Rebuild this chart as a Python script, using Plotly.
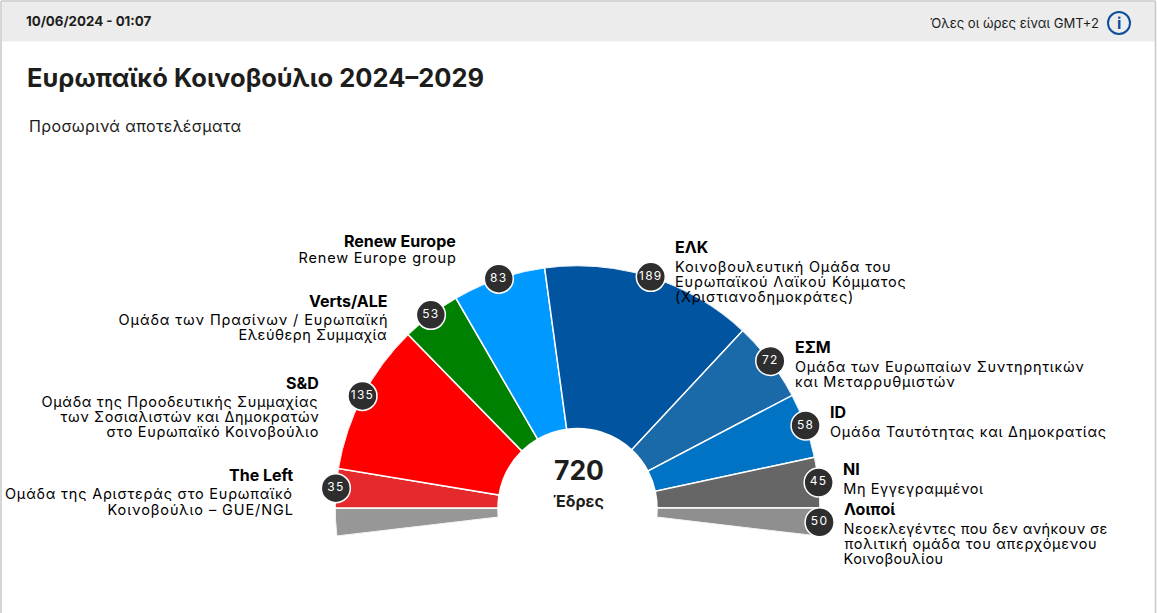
import plotly.graph_objects as go

W, H = 1157, 613
FONT = "Inter"

# ---- data ----
groups = ["Λοιποί (α)", "The Left", "S&D", "Verts/ALE", "Renew Europe", "ΕΛΚ", "ΕΣΜ", "ID", "NI", "Λοιποί (β)"]
seats = [25, 35, 135, 53, 83, 189, 72, 58, 45, 25]
badge_text = ["", "35", "135", "53", "83", "189", "72", "58", "45", "50"]
colors = ["#979797", "#e42a2c", "#ff0000", "#008000", "#0099ff", "#0054a0", "#1a69a8", "#0073c4", "#666666", "#8f8f8f"]
total_seats = "720"
seats_word = "Έδρες"
timestamp = "10/06/2024 - 01:07"
timezone = "Όλες οι ώρες είναι GMT+2"
title = "Ευρωπαϊκό Κοινοβούλιο 2024–2029"
subtitle = "Προσωρινά αποτελέσματα"

# text line, anchor, x px, y px, bold, letter spacing px
label_lines = [
    ("Renew Europe", "right", 456, 241, True, 0),
    ("Renew Europe group", "right", 456, 258, False, 0.83),
    ("Verts/ALE", "right", 388, 301, True, 0),
    ("Ομάδα των Πρασίνων / Ευρωπαϊκή", "right", 388, 319, False, 0.9),
    ("Ελεύθερη Συμμαχία", "right", 388, 334, False, 0.53),
    ("S&amp;D", "right", 319, 383, True, 0),
    ("Ομάδα της Προοδευτικής Συμμαχίας", "right", 319, 401, False, 0.66),
    ("των Σοσιαλιστών και Δημοκρατών", "right", 319, 416, False, 0.63),
    ("στο Ευρωπαϊκό Κοινοβούλιο", "right", 319, 431, False, 0.68),
    ("The Left", "right", 293, 475, True, 0),
    ("Ομάδα της Αριστεράς στο Ευρωπαϊκό", "right", 293, 494, False, 0.79),
    ("Κοινοβούλιο – GUE/NGL", "right", 293, 509, False, 0.9),
    ("ΕΛΚ", "left", 675, 247, True, 0),
    ("Κοινοβουλευτική Ομάδα του", "left", 675, 266, False, 0.8),
    ("Ευρωπαϊκού Λαϊκού Κόμματος", "left", 675, 281, False, 0.85),
    ("(Χριστιανοδημοκράτες)", "left", 675, 296, False, 0.76),
    ("ΕΣΜ", "left", 795, 347, True, 0),
    ("Ομάδα των Ευρωπαίων Συντηρητικών", "left", 795, 366, False, 0.75),
    ("και Μεταρρυθμιστών", "left", 795, 381, False, 0.79),
    ("ID", "left", 830, 412, True, 0),
    ("Ομάδα Ταυτότητας και Δημοκρατίας", "left", 830, 431, False, 0.75),
    ("NI", "left", 843, 469, True, 0),
    ("Μη Εγγεγραμμένοι", "left", 843, 488, False, 0.59),
    ("Λοιποί", "left", 844, 509, True, 0),
    ("Νεοεκλεγέντες που δεν ανήκουν σε", "left", 844, 528, False, 0.4),
    ("πολιτική ομάδα του απερχόμενου", "left", 844, 543, False, 0.7),
    ("Κοινοβουλίου", "left", 844, 558, False, 0.4),
]

# ---- geometry (seats -> degrees: the 670 seats above the baseline fill 180 degrees) ----
deg_per_seat = 180 / 670
overhang = seats[0] * deg_per_seat
cx, cy, R, hole = 577.5, 508, 242.5, 79.5

thetas, widths = [], []
cum = 0
for s in seats:
    widths.append(s * deg_per_seat)
    thetas.append((cum + s / 2) * deg_per_seat - overhang)
    cum += s

px = lambda x: x / W
py = lambda y: 1 - y / H

fig = go.Figure()
fig.add_trace(go.Barpolar(
    theta=thetas, width=widths, r=[R - hole] * len(seats), base=[hole] * len(seats),
    marker=dict(color=colors, line=dict(color="white", width=1.5)),
    text=groups, hoverinfo="text", showlegend=False,
))
fig.add_trace(go.Scatterpolar(
    theta=thetas[1:], r=[R] * (len(seats) - 1), mode="markers+text",
    text=badge_text[1:], textposition="middle center",
    textfont=dict(family=FONT, size=12, color="white"),
    marker=dict(size=29, color="#2e2e2e", line=dict(color="white", width=1.5)),
    cliponaxis=False, hoverinfo="skip", showlegend=False,
))


def note(text, x, y, anchor="left", size=15, bold=False, color="#111111", spacing=0):
    # letter-spacing is applied after Plotly measured the text, and it grows from the text's
    # centre, so the anchored edge is put back with a shift of half the added width
    shift = {"left": 1, "right": -1, "center": 0}[anchor] * len(text) * spacing / 2
    return dict(text=f"<b>{text}</b>" if bold else text, x=px(x), y=py(y), xref="paper", yref="paper",
                xanchor=anchor, yanchor="middle", showarrow=False, borderpad=0, borderwidth=0,
                xshift=shift, font=dict(family=FONT, size=size, color=color))


SUB_SPACING = 0.36
annotations = [note(t, x, y, a, 16 if b else 14.5, b, "#000000", sp)
               for t, a, x, y, b, sp in label_lines]
spaced = {i: row[5] for i, row in enumerate(label_lines) if row[5]}
annotations += [
    note(timestamp, 26, 21, size=13.3, bold=True, color="#1d1d1b"),
    note(timezone, 1099, 23, "right", size=13.1, color="#1d1d1b"),
    note("i", 1119, 23, "center", size=16, bold=True, color="#0b4f9e"),
    note(title, 27, 77, size=25.5, bold=True, color="#1d1d1b"),
    note(subtitle, 29, 126, size=16, color="#1d1d1b", spacing=SUB_SPACING),
    note(total_seats, 579, 470, "center", size=26.5, bold=True, color="#1d1d1b"),
    note(seats_word, 579, 501, "center", size=16, bold=True, color="#1d1d1b"),
]
spaced[len(label_lines) + 4] = SUB_SPACING

shapes = [
    dict(type="rect", xref="paper", yref="paper", x0=px(2), x1=px(1155), y0=py(2), y1=py(41.5),
         fillcolor="#ececec", line_width=0, layer="below"),
    dict(type="line", xref="paper", yref="paper", x0=px(1), x1=px(1), y0=py(1), y1=py(613),
         line=dict(color="#c8c8c8", width=1.5)),
    dict(type="line", xref="paper", yref="paper", x0=px(1155.5), x1=px(1155.5), y0=py(1), y1=py(613),
         line=dict(color="#c8c8c8", width=1.5)),
    dict(type="line", xref="paper", yref="paper", x0=px(1), x1=px(1155.5), y0=py(1), y1=py(1),
         line=dict(color="#c8c8c8", width=1.5)),
    dict(type="circle", xref="paper", yref="paper", x0=px(1108), x1=px(1130), y0=py(12), y1=py(34),
         fillcolor="rgba(0,0,0,0)", line=dict(color="#0b4f9e", width=2)),
]

fig.update_layout(
    width=W, height=H, margin=dict(l=0, r=0, t=0, b=0), paper_bgcolor="white", plot_bgcolor="white",
    showlegend=False, annotations=annotations, shapes=shapes,
    polar=dict(
        domain=dict(x=[px(cx - R), px(cx + R)], y=[py(cy + R * 0.11702), py(cy - R)]),
        sector=[-overhang, 180 + overhang], bgcolor="rgba(0,0,0,0)",
        angularaxis=dict(visible=False, rotation=180, direction="clockwise", thetaunit="degrees"),
        radialaxis=dict(visible=False, range=[0, R]),
        bargap=0,
    ),
)

css = "".join(f'.annotation[data-index="{i}"] text{{letter-spacing:{v}px}}' for i, v in spaced.items())
css += ".textpoint text{letter-spacing:1.3px}"
post = (
    "document.body.style.margin='0';"
    "var st=document.createElement('style');st.textContent=" + repr(css) + ";document.head.appendChild(st);"
)
fig.write_html("out.html", post_script=post, config={"displayModeBar": False})
